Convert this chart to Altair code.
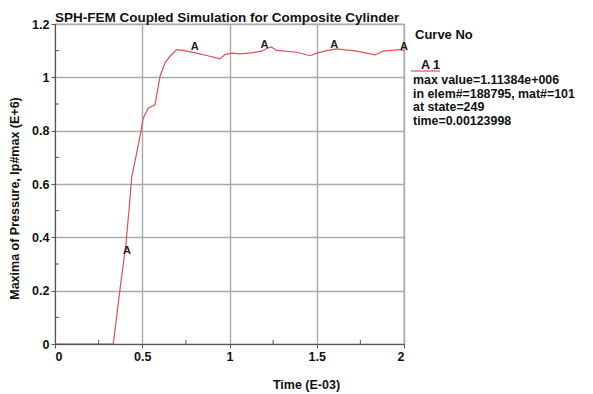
import altair as alt
import pandas as pd

# curve data (time in E-03, pressure in E+6)
t = [0, 0.30, 0.334, 0.372, 0.407, 0.426, 0.44, 0.468, 0.487, 0.506, 0.535, 0.573,
     0.602, 0.630, 0.659, 0.697, 0.735, 0.812, 0.888, 0.946, 0.974, 1.012, 1.06,
     1.12, 1.184, 1.213, 1.24, 1.27, 1.385, 1.461, 1.50, 1.557, 1.614, 1.729,
     1.834, 1.88, 1.977, 2.0]
v = [0, 0, 0, 0.203, 0.378, 0.516, 0.628, 0.716, 0.779, 0.848, 0.885, 0.897,
     1.004, 1.054, 1.079, 1.104, 1.101, 1.091, 1.079, 1.069, 1.085, 1.091, 1.088,
     1.092, 1.098, 1.108, 1.114, 1.101, 1.094, 1.081, 1.091, 1.100, 1.107, 1.098,
     1.084, 1.098, 1.104, 1.100]

# curve markers "A"
marker_t = [0.413, 0.80, 1.20, 1.60, 2.0]
marker_v = [0.35, 1.115, 1.12, 1.12, 1.115]
marker_label = ["A", "A", "A", "A", "A"]

# legend text lines
legend_lines = ["max value=1.11384e+006", "\u00a0in elem#=188795, mat#=101",
                "\u00a0at state=249", "\u00a0time=0.00123998"]

x_ticks = [0, 0.5, 1, 1.5, 2]
y_ticks = [0, 0.2, 0.4, 0.6, 0.8, 1, 1.2]
x_minor = [0.25, 0.75, 1.25, 1.75]
y_minor = [0.1, 0.3, 0.5, 0.7, 0.9, 1.1]

FONT = "Liberation Sans"
W, H = 349, 320

df = pd.DataFrame({"t": t, "v": v})
dm = pd.DataFrame({"t": marker_t, "v": marker_v, "lab": marker_label})

xs = alt.Scale(domain=[0, 2], nice=False, zero=False)
ys = alt.Scale(domain=[0, 1.2], nice=False, zero=False)

line = alt.Chart(df).mark_line(color="#e05058", strokeWidth=1.2, clip=True).encode(
    x=alt.X("t:Q", scale=xs, axis=alt.Axis(
        title="Time (E-03)", values=x_ticks, format="~g", titleX=251, titleY=44,
        titleAlign="center", titleBaseline="alphabetic")),
    y=alt.Y("v:Q", scale=ys, axis=alt.Axis(
        title="Maxima of Pressure, lp#max (E+6)", values=y_ticks, format="~g",
        titleX=-37, titleY=174, titleAlign="center", titleBaseline="alphabetic")),
)

xm = alt.Chart(pd.DataFrame({"m": x_minor})).mark_rule(color="#555555", strokeWidth=1).encode(
    x=alt.X("m:Q", scale=xs), y=alt.value(H), y2=alt.value(H - 4))
ym = alt.Chart(pd.DataFrame({"m": y_minor})).mark_rule(color="#555555", strokeWidth=1).encode(
    y=alt.Y("m:Q", scale=ys), x=alt.value(0), x2=alt.value(4))

markers = alt.Chart(dm).mark_text(font=FONT, fontSize=11, fontWeight="bold",
                                  color="#222222", clip=False).encode(
    x="t:Q", y="v:Q", text="lab:N")

dl = pd.DataFrame({"txt": ["\n".join(legend_lines)]})
legend_text = alt.Chart(dl).mark_text(font=FONT, fontSize=12.4, fontWeight="bold",
                                      align="left", baseline="top", lineBreak="\n",
                                      lineHeight=13.5, color="#111111").encode(
    x=alt.value(358), y=alt.value(50), text="txt:N")

dh = pd.DataFrame({"txt": ["Curve No"]})
head = alt.Chart(dh).mark_text(font=FONT, fontSize=13, fontWeight="bold", align="left",
                               baseline="middle", color="#111111").encode(
    x=alt.value(360), y=alt.value(11), text="txt:N")

da = pd.DataFrame({"txt": ["A  1"]})
akey = alt.Chart(da).mark_text(font=FONT, fontSize=12.5, fontWeight="bold", align="left",
                               baseline="middle", color="#111111").encode(
    x=alt.value(366), y=alt.value(41), text="txt:N")
aline = alt.Chart(da).mark_rule(color="#e05058", strokeWidth=1.2).encode(
    x=alt.value(356), x2=alt.value(385), y=alt.value(47))

chart = alt.layer(line, xm, ym, markers, legend_text, head, akey, aline).properties(
    width=W, height=H,
    title=alt.TitleParams("SPH-FEM Coupled Simulation for Composite Cylinder",
                          anchor="start", frame="group", font=FONT, fontSize=13.5,
                          fontWeight="bold", color="#111111", offset=3, dy=9),
    padding={"left": 47, "top": 16, "right": 181, "bottom": 50},
    autosize=alt.AutoSizeParams(type="none"),
).configure_view(stroke="#888888", strokeWidth=1.2).configure_axis(
    labelFont=FONT, labelFontSize=12.5, labelFontWeight="bold", labelColor="#111111",
    titleFont=FONT, titleFontSize=12.5, titleFontWeight="bold", titleColor="#111111",
    gridColor="#aaaaaa", gridWidth=1.4, domainColor="#555555", tickColor="#555555",
    tickSize=4, labelPadding=2,
).configure_axisX(grid=True).configure_axisY(grid=True)

chart.save("out.html", embed_options={"renderer": "svg", "actions": False})
